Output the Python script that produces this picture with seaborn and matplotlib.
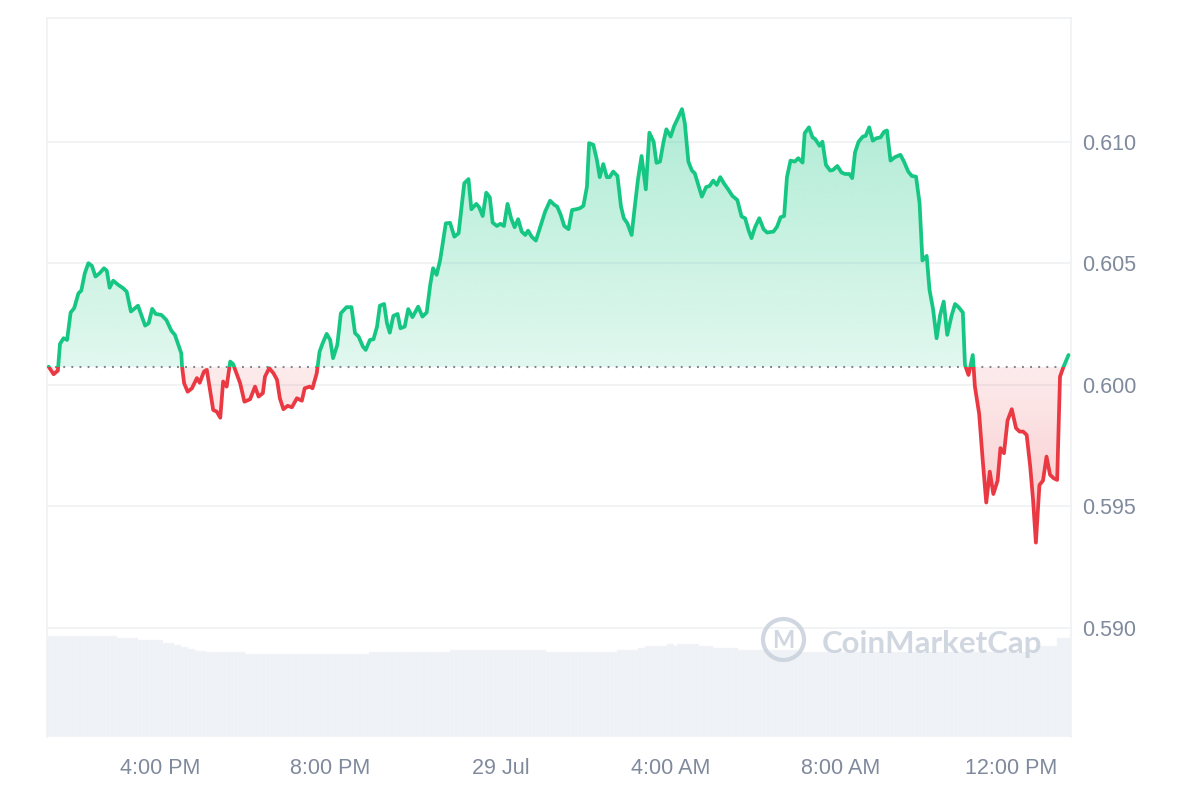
import numpy as np
import pandas as pd
import matplotlib
matplotlib.use("Agg")
import matplotlib.pyplot as plt
import matplotlib.dates as mdates
from matplotlib.patches import Rectangle, Circle
from matplotlib.colors import to_rgb
from matplotlib.ticker import FormatStrFormatter, FixedLocator
import seaborn as sns

# ---------------- data ----------------
start_day = "2024-07-28"
times = [
    "13:23", "13:30", "13:36", "13:39", "13:44", "13:49", "13:54", "13:59", "14:05", "14:09",
    "14:14", "14:19", "14:24", "14:29", "14:35", "14:41", "14:45", "14:49", "14:54", "15:01",
    "15:08", "15:13", "15:19", "15:29", "15:39", "15:44", "15:49", "15:54", "16:02", "16:09",
    "16:16", "16:21", "16:30", "16:31", "16:34", "16:39", "16:45", "16:52", "16:56", "17:02",
    "17:06", "17:15", "17:20", "17:25", "17:29", "17:34", "17:39", "17:43", "17:53", "17:59",
    "18:07", "18:14", "18:19", "18:25", "18:28", "18:34", "18:40", "18:45", "18:49", "18:54",
    "19:00", "19:06", "19:13", "19:20", "19:24", "19:31", "19:35", "19:41", "19:45", "19:49",
    "19:55", "20:00", "20:04", "20:10", "20:15", "20:23", "20:30", "20:35", "20:40", "20:46",
    "20:50", "20:56", "21:01", "21:06", "21:10", "21:16", "21:20", "21:24", "21:29", "21:35",
    "21:39", "21:45", "21:50", "21:56", "22:04", "22:10", "22:16", "22:21", "22:25", "22:30",
    "22:35", "22:43", "22:49", "22:55", "23:01", "23:09", "23:15", "23:19", "23:26", "23:30",
    "23:35", "23:40", "23:45", "23:49", "23:55", "00:00", "00:05", "00:10", "00:15", "00:20",
    "00:25", "00:30", "00:35", "00:39", "00:44", "00:50", "00:56", "01:03", "01:10", "01:16",
    "01:20", "01:25", "01:30", "01:36", "01:41", "01:47", "01:52", "01:57", "02:02", "02:05",
    "02:11", "02:16", "02:20", "02:25", "02:30", "02:34", "02:39", "02:45", "02:50", "02:54",
    "02:59", "03:05", "03:10", "03:14", "03:19", "03:25", "03:30", "03:36", "03:40", "03:45",
    "03:50", "03:54", "04:00", "04:05", "04:08", "04:16", "04:20", "04:25", "04:30", "04:34",
    "04:39", "04:44", "04:50", "04:55", "05:00", "05:05", "05:10", "05:15", "05:21", "05:27",
    "05:34", "05:40", "05:45", "05:50", "05:54", "05:59", "06:05", "06:11", "06:16", "06:25",
    "06:30", "06:35", "06:40", "06:44", "06:49", "06:55", "07:00", "07:06", "07:09", "07:15",
    "07:20", "07:24", "07:30", "07:34", "07:39", "07:45", "07:49", "07:55", "08:01", "08:06",
    "08:12", "08:16", "08:20", "08:25", "08:31", "08:35", "08:40", "08:45", "08:50", "08:56",
    "09:01", "09:05", "09:10", "09:16", "09:24", "09:29", "09:35", "09:40", "09:46", "09:51",
    "09:55", "10:01", "10:05", "10:10", "10:15", "10:20", "10:25", "10:30", "10:36", "10:41",
    "10:46", "10:52", "10:55", "11:00", "11:06", "11:09", "11:15", "11:20", "11:25", "11:30",
    "11:35", "11:41", "11:45", "11:50", "11:55", "12:01", "12:07", "12:12", "12:17", "12:22",
    "12:27", "12:31", "12:35", "12:40", "12:45", "12:50", "12:55", "13:00", "13:05", "13:09",
    "13:14", "13:21",
]
prices = [
    0.60075, 0.60044, 0.60059, 0.60169, 0.60192, 0.60185, 0.60298, 0.60316, 0.60377, 0.60388,
    0.60460, 0.60501, 0.60490, 0.60446, 0.60460, 0.60480, 0.60470, 0.60400, 0.60429, 0.60412,
    0.60398, 0.60384, 0.60302, 0.60326, 0.60244, 0.60254, 0.60313, 0.60292, 0.60288, 0.60267,
    0.60223, 0.60206, 0.60130, 0.60078, 0.60007, 0.59972, 0.59986, 0.60028, 0.60009, 0.60055,
    0.60062, 0.59897, 0.59890, 0.59865, 0.60014, 0.59993, 0.60096, 0.60086, 0.60007, 0.59931,
    0.59941, 0.59993, 0.59952, 0.59966, 0.60034, 0.60069, 0.60048, 0.60021, 0.59945, 0.59900,
    0.59914, 0.59908, 0.59945, 0.59935, 0.59986, 0.59993, 0.59986, 0.60048, 0.60137, 0.60169,
    0.60210, 0.60185, 0.60110, 0.60165, 0.60295, 0.60320, 0.60320, 0.60213, 0.60199, 0.60158,
    0.60144, 0.60185, 0.60188, 0.60240, 0.60326, 0.60333, 0.60254, 0.60215, 0.60284, 0.60292,
    0.60233, 0.60240, 0.60312, 0.60279, 0.60322, 0.60281, 0.60298, 0.60412, 0.60480, 0.60453,
    0.60514, 0.60665, 0.60667, 0.60610, 0.60624, 0.60830, 0.60847, 0.60723, 0.60745, 0.60731,
    0.60695, 0.60791, 0.60772, 0.60668, 0.60654, 0.60663, 0.60654, 0.60745, 0.60686, 0.60649,
    0.60682, 0.60631, 0.60617, 0.60635, 0.60610, 0.60594, 0.60649, 0.60713, 0.60758, 0.60741,
    0.60734, 0.60700, 0.60654, 0.60641, 0.60720, 0.60723, 0.60727, 0.60737, 0.60816, 0.60995,
    0.60988, 0.60926, 0.60855, 0.60909, 0.60855, 0.60855, 0.60878, 0.60860, 0.60734, 0.60686,
    0.60665, 0.60617, 0.60748, 0.60847, 0.60942, 0.60805, 0.61038, 0.61001, 0.60914, 0.60919,
    0.61001, 0.61052, 0.61022, 0.61066, 0.61084, 0.61135, 0.61077, 0.60919, 0.60882, 0.60871,
    0.60823, 0.60775, 0.60814, 0.60819, 0.60841, 0.60823, 0.60855, 0.60830, 0.60805, 0.60778,
    0.60761, 0.60693, 0.60686, 0.60635, 0.60604, 0.60649, 0.60686, 0.60641, 0.60627, 0.60631,
    0.60651, 0.60690, 0.60695, 0.60855, 0.60923, 0.60919, 0.60933, 0.60915, 0.61036, 0.61060,
    0.61019, 0.61011, 0.60984, 0.61001, 0.60905, 0.60882, 0.60885, 0.60901, 0.60874, 0.60868,
    0.60868, 0.60851, 0.60957, 0.61001, 0.61022, 0.61025, 0.61060, 0.61005, 0.61015, 0.61019,
    0.61042, 0.61047, 0.60923, 0.60937, 0.60947, 0.60919, 0.60878, 0.60860, 0.60857, 0.60748,
    0.60512, 0.60531, 0.60391, 0.60312, 0.60192, 0.60288, 0.60343, 0.60206, 0.60284, 0.60333,
    0.60320, 0.60298, 0.60082, 0.60041, 0.60123, 0.59993, 0.59881, 0.59691, 0.59516, 0.59643,
    0.59551, 0.59606, 0.59740, 0.59719, 0.59853, 0.59900, 0.59822, 0.59808, 0.59808, 0.59794,
    0.59664, 0.59527, 0.59351, 0.59588, 0.59606, 0.59705, 0.59630, 0.59616, 0.59609, 0.60034,
    0.60075, 0.60123,
]
baseline_price = 0.60074

# volume (relative units): level changes as a step series
vol_change_times = ["13:20", "15:01", "15:32", "16:03", "16:21", "16:32", "16:42", "16:52", "17:03",
                    "17:59", "20:57", "22:52", "01:04", "02:46", "03:14", "03:25", "03:53", "04:03",
                    "04:10", "04:38", "04:59", "05:34", "06:59", "12:37", "13:05"]
vol_levels = [101, 98.7, 96.7, 94.3, 92, 90.3, 88.3, 86.3, 84.7,
              82.7, 84.7, 86.7, 84.7, 86.7, 88.7, 90.7, 92.7, 90.7,
              92.7, 90.7, 88.7, 86.7, 85, 91, 99]
vol_bar_start = "2024-07-28 13:22"
vol_bar_end = "2024-07-29 13:22"

tick_times = ["2024-07-28 16:00", "2024-07-28 20:00", "2024-07-29 00:00",
              "2024-07-29 04:00", "2024-07-29 08:00", "2024-07-29 12:00"]
tick_labels = ["4:00 PM", "8:00 PM", "29 Jul", "4:00 AM", "8:00 AM", "12:00 PM"]
y_ticks = [0.590, 0.595, 0.600, 0.605, 0.610]

# ---------------- helpers ----------------
def to_timestamps(hm_list, day):
    base = pd.Timestamp(day)
    out, offset, prev = [], 0, None
    for hm in hm_list:
        h, m = map(int, hm.split(":"))
        mins = h * 60 + m
        if prev is not None and mins < prev:
            offset += 1
        prev = mins
        out.append(base + pd.Timedelta(days=offset, minutes=mins))
    return pd.DatetimeIndex(out)

ts = to_timestamps(times, start_day)
p = np.array(prices)
df = pd.DataFrame({"time": ts, "price": p})

vol_t = to_timestamps(vol_change_times, start_day)
bar_t = pd.date_range(vol_bar_start, vol_bar_end, freq="5min")
idx = np.searchsorted(vol_t.values, bar_t.values, side="right") - 1
bar_v = np.array(vol_levels)[np.clip(idx, 0, len(vol_levels) - 1)]

GREEN = "#16c784"
RED = "#ea3943"
GRID = "#eff1f4"
TXT = "#808a9d"

# ---------------- figure ----------------
sns.set_style("white")
plt.rcParams["font.family"] = ["Liberation Sans", "DejaVu Sans"]

fig = plt.figure(figsize=(12, 8), dpi=100)
ax = fig.add_axes([47 / 1200, 1 - 737 / 800, (1071 - 47) / 1200, (737 - 18) / 800])
ax_vol = ax.twinx()
ax.set_zorder(2)
ax.patch.set_visible(False)
ax_vol.set_zorder(1)

xmin = pd.Timestamp("2024-07-28 13:20:40")
xmax = pd.Timestamp("2024-07-29 13:24:30")
ymin, ymax = 0.58551, 0.61510

# volume bars
ax_vol.bar(bar_t, bar_v, width=5.0 / 1440, color="#eef1f5", edgecolor="#f7f8fa",
           linewidth=0.3, align="center")
ax_vol.set_ylim(0, max(vol_levels) / 0.1405)
ax_vol.set_yticks([])
for s in ax_vol.spines.values():
    s.set_visible(False)

# gridlines
for yv in y_ticks:
    ax.axhline(yv, color=GRID, lw=1.2, zorder=0.5)

# gradient fills
xn = mdates.date2num(ts.to_pydatetime())
poly = ax.fill_between(ts, p, baseline_price, facecolor="none", edgecolor="none")
clip = poly.get_paths()[0]


def grad_image(color, y0, y1, a0, a1):
    n = 256
    z = np.zeros((n, 1, 4))
    z[:, :, :3] = to_rgb(color)
    z[:, 0, 3] = np.linspace(a0, a1, n)
    im = ax.imshow(z, aspect="auto", origin="lower",
                   extent=[xn.min(), xn.max(), y0, y1], zorder=1, interpolation="bilinear")
    im.set_clip_path(clip, transform=ax.transData)
    return im

grad_image(GREEN, baseline_price, p.max(), 0.13, 0.34)
grad_image(RED, p.min(), baseline_price, 0.28, 0.10)

# price line (green above baseline, red below)
sns.lineplot(data=df, x="time", y="price", ax=ax, color=GREEN, lw=2.7, zorder=3)
line_up = ax.lines[-1]
sns.lineplot(data=df, x="time", y="price", ax=ax, color=RED, lw=2.7, zorder=3)
line_dn = ax.lines[-1]
for ln in (line_up, line_dn):
    ln.set_solid_capstyle("round")
    ln.set_solid_joinstyle("round")
big = 1e5
rect_up = Rectangle((-big, baseline_price), 2 * big, 10, transform=ax.transData)
rect_dn = Rectangle((-big, baseline_price - 10), 2 * big, 10, transform=ax.transData)
line_up.set_clip_path(rect_up)
line_dn.set_clip_path(rect_dn)

# baseline dotted
ax.axhline(baseline_price, color="#7f858f", lw=1.5, ls=(0, (0.9, 3.0)), zorder=2.5)

ax.set_xlim(xmin, xmax)
ax.set_ylim(ymin, ymax)

# axes styling
ax.yaxis.tick_right()
ax.yaxis.set_label_position("right")
ax.yaxis.set_major_locator(FixedLocator(y_ticks))
ax.yaxis.set_major_formatter(FormatStrFormatter("%.3f"))
ax.set_xticks(pd.to_datetime(tick_times))
ax.set_xticklabels(tick_labels)
ax.tick_params(axis="x", length=0, pad=15, labelsize=15.5, labelcolor=TXT)
ax.tick_params(axis="y", length=0, pad=8, labelsize=15.5, labelcolor=TXT,
               left=False, right=False, labelleft=False, labelright=True)
ax.set_xlabel("")
ax.set_ylabel("")
for k in ("left", "right", "top"):
    ax.spines[k].set_color(GRID)
    ax.spines[k].set_linewidth(1.2)
ax.spines["bottom"].set_visible(False)
ax.grid(False)

# watermark
WM = "#c8d0dc"
fig.add_artist(Circle((783.5 / 100, (800 - 639.5) / 100), 0.205, transform=fig.dpi_scale_trans,
                      fill=False, lw=3.0, edgecolor=WM, alpha=0.85, zorder=5))
fig.text(783.5 / 1200, 1 - 641 / 800, "M", ha="center", va="center", fontsize=17,
         fontweight="bold", color=WM, alpha=0.85, family=["Lato", "DejaVu Sans"], zorder=5)
fig.text(822 / 1200, 1 - 644 / 800, "CoinMarketCap", ha="left", va="center", fontsize=22.5,
         fontweight="bold", color=WM, alpha=0.85, family=["Lato", "DejaVu Sans"], zorder=5)

fig.savefig("out.png", dpi=100)
